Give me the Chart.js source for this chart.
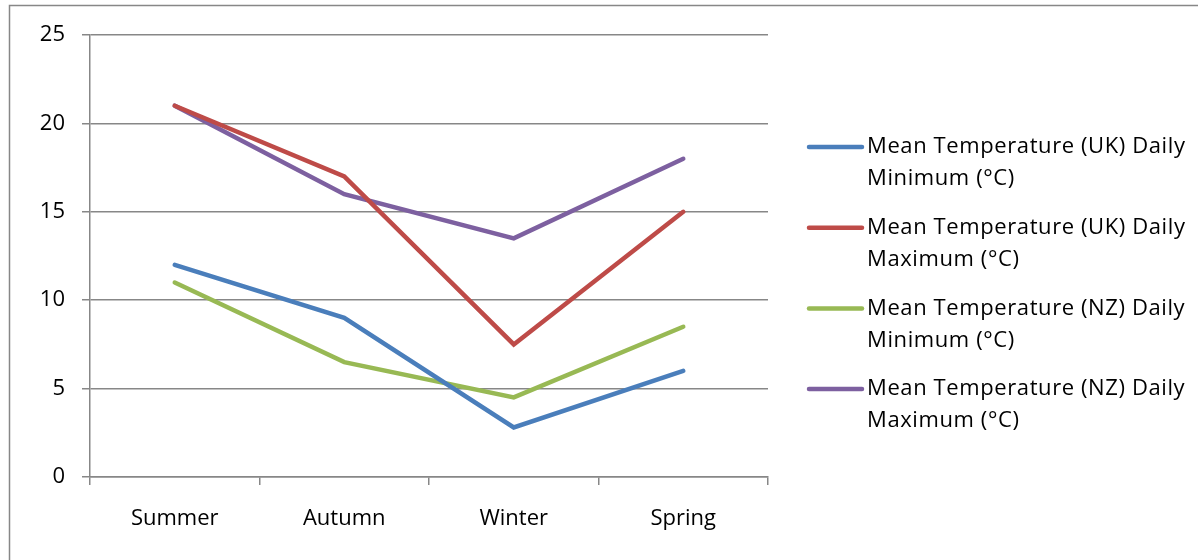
<!DOCTYPE html>
<html>
<head>
<meta charset="utf-8">
<script src="https://cdn.jsdelivr.net/npm/chart.js@4/dist/chart.umd.min.js"></script>
<style>
  body { margin: 0; background: #fff; }
  #wrap { width: 1198px; height: 560px; position: relative; }
</style>
</head>
<body>
<div id="wrap"><canvas id="grafico" width="1198" height="560"></canvas></div>
<script>
// dati
var stagioni = ['Summer', 'Autumn', 'Winter', 'Spring'];
var ukMin = [12, 9, 2.8, 6];
var ukMax = [21, 17, 7.5, 15];
var nzMin = [11, 6.5, 4.5, 8.5];
var nzMax = [21, 16, 13.5, 18];
var nomiSerie = [
    ['Mean Temperature (UK) Daily', 'Minimum (°C)'],
    ['Mean Temperature (UK) Daily', 'Maximum (°C)'],
    ['Mean Temperature (NZ) Daily', 'Minimum (°C)'],
    ['Mean Temperature (NZ) Daily', 'Maximum (°C)']
];
var colori = ['#4a7ebb', '#be4b48', '#98b954', '#7d60a0'];
var valori = [ukMin, ukMax, nzMin, nzMax];

var FONT = '"Open Sans", sans-serif';
var GRIGIO = '#878787';

// cornice esterna + legenda disegnata a mano
var pluginExtra = {
    id: 'extra',
    afterDraw: function(chart) {
        var ctx = chart.ctx;
        ctx.save();
        ctx.strokeStyle = GRIGIO;
        ctx.lineWidth = 1.5;
        ctx.strokeRect(9.5, 5.5, 1300, 700);

        ctx.font = '22px ' + FONT;
        ctx.letterSpacing = '0.6px';
        ctx.textBaseline = 'middle';
        ctx.fillStyle = '#000';
        var y0 = 147;
        for (var i = 0; i < chart.data.datasets.length; i++) {
            var ds = chart.data.datasets[i];
            var y = y0 + i * 80.7;
            ctx.strokeStyle = ds.borderColor;
            ctx.lineWidth = 4.5;
            ctx.lineCap = 'round';
            ctx.beginPath();
            ctx.moveTo(809, y);
            ctx.lineTo(862, y);
            ctx.stroke();
            ctx.fillText(nomiSerie[i][0], 867, y);
            ctx.fillText(nomiSerie[i][1], 867, y + 32);
        }
        ctx.restore();
    }
};

var datasets = [];
for (var i = 0; i < valori.length; i++) {
    datasets.push({
        label: nomiSerie[i].join(' '),
        data: valori[i],
        borderColor: colori[i],
        backgroundColor: colori[i],
        borderWidth: 4.5,
        borderCapStyle: 'round',
        borderJoinStyle: 'miter',
        pointRadius: 0,
        tension: 0
    });
}

new Chart(document.getElementById('grafico'), {
    type: 'line',
    data: { labels: stagioni, datasets: datasets },
    options: {
        responsive: false,
        animation: false,
        devicePixelRatio: 1,
        layout: { padding: { top: 35, right: 430, bottom: 0, left: 0 } },
        plugins: { legend: { display: false }, tooltip: { enabled: false } },
        scales: {
            x: {
                offset: true,
                grid: {
                    offset: true,
                    drawOnChartArea: false,
                    color: GRIGIO,
                    lineWidth: 1.5,
                    tickLength: 8
                },
                border: { color: GRIGIO, width: 1.5 },
                ticks: { color: '#000', font: { family: FONT, size: 22 }, padding: 21 },
                afterFit: function(s) { s.height = 560 - 477; }
            },
            y: {
                min: 0,
                max: 25,
                ticks: { stepSize: 5, color: '#000', font: { family: FONT, size: 22 }, padding: 17 },
                grid: { color: GRIGIO, lineWidth: 1.5, tickLength: 8 },
                border: { color: GRIGIO, width: 1.5 },
                afterFit: function(s) { s.width = 90; }
            }
        }
    },
    plugins: [pluginExtra]
});
</script>
</body>
</html>
